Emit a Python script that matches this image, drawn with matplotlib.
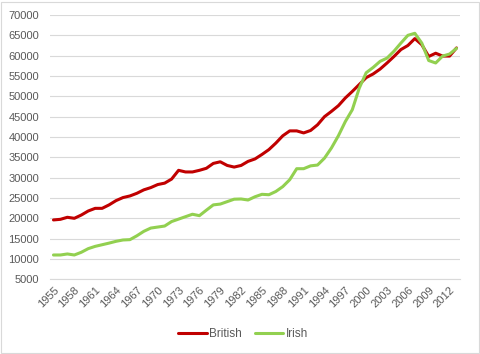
import matplotlib
matplotlib.use("Agg")
import matplotlib.pyplot as plt
from matplotlib.patches import Rectangle

years = list(range(1955, 2014))
british = [19600, 19750, 20250, 20000, 20800, 21800, 22450, 22450, 23300, 24350,
           25100, 25500, 26150, 27000, 27550, 28300, 28650, 29650, 31800, 31400,
           31400, 31800, 32300, 33500, 33900, 33000, 32600, 33000, 34000, 34600,
           35700, 36900, 38500, 40300, 41500, 41500, 41000, 41600, 43000, 45000,
           46300, 47700, 49600, 51200, 52900, 54600, 55500, 56700, 58200, 59800,
           61500, 62500, 64200, 62700, 59800, 60600, 59900, 59900, 61900]
irish = [10980, 10980, 11230, 10980, 11640, 12540, 13100, 13500, 13900, 14340,
         14670, 14750, 15700, 16800, 17600, 17850, 18100, 19200, 19800, 20400,
         21000, 20650, 22000, 23300, 23500, 24100, 24700, 24750, 24500, 25300,
         25900, 25800, 26600, 27800, 29500, 32200, 32200, 32900, 33100, 34800,
         37300, 40300, 43800, 46700, 52000, 55800, 57100, 58600, 59400, 61100,
         63100, 65000, 65500, 63100, 58800, 58200, 59900, 60400, 61800]
series_names = ["British", "Irish"]
colors = ["#C00000", "#92D050"]
yticks = list(range(5000, 70001, 5000))

W, H = 481, 354
fig = plt.figure(figsize=(W / 100, H / 100), dpi=100)
fig.patch.set_facecolor("white")
fig.add_artist(Rectangle((1 / W, 1 / H), 478 / W, 351 / H, transform=fig.transFigure,
                         fill=False, edgecolor="#D9D9D9", linewidth=0.8))

left, right, top, bottom = 50, 460, 15, 279.3
ax = fig.add_axes([left / W, 1 - bottom / H, (right - left) / W, (bottom - top) / H])
n = len(years)
x = list(range(n))
for vals, c, name in zip([british, irish], colors, series_names):
    ax.plot(x, vals, color=c, linewidth=2.2, label=name, solid_capstyle="round",
            solid_joinstyle="round", zorder=3)

ax.set_xlim(-0.5, n - 0.5)
ax.set_ylim(5000, 70000)
ax.set_yticks(yticks)
ax.set_yticklabels([str(v) for v in yticks])
ax.yaxis.grid(True, color="#D9D9D9", linewidth=0.8)
ax.set_axisbelow(True)
tick_idx = list(range(0, n, 3))
ax.set_xticks(tick_idx)
ax.set_xticklabels([str(years[i]) for i in tick_idx], rotation=45, ha="right",
                   va="top", rotation_mode="anchor")
for s in ["top", "right", "left"]:
    ax.spines[s].set_visible(False)
ax.spines["bottom"].set_color("#D9D9D9")
ax.spines["bottom"].set_linewidth(0.8)
ax.tick_params(axis="both", length=0, colors="#595959", labelsize=8)
ax.tick_params(axis="y", pad=8)
ax.tick_params(axis="x", pad=4)
for lab in ax.get_xticklabels() + ax.get_yticklabels():
    lab.set_fontfamily("Liberation Sans")

leg = fig.legend(loc="center", bbox_to_anchor=(243 / W, 1 - 334 / H), ncol=2,
                 frameon=False, prop={"family": "Liberation Sans", "size": 8.5},
                 handlelength=2.4, handletextpad=0.2, columnspacing=1.1)
for t in leg.get_texts():
    t.set_color("#595959")

fig.savefig("out.png", dpi=100, facecolor="white")
